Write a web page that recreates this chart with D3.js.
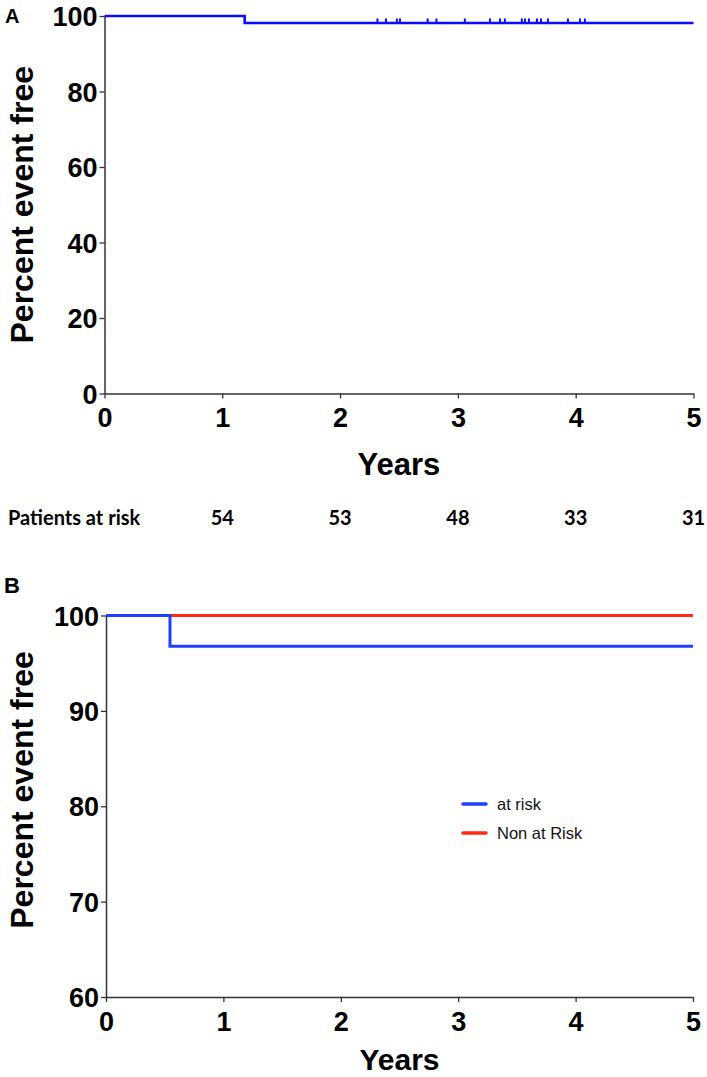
<!DOCTYPE html>
<html><head><meta charset="utf-8">
<script src="https://cdn.jsdelivr.net/npm/d3@7"></script>
<style>
body{margin:0;background:#fff;}
svg text{font-family:"Liberation Sans",Arial,Helvetica,sans-serif;}
</style></head>
<body><svg id="c" width="707" height="1077"></svg>
<script>
// ---------- Data ----------
const xTicks = [0,1,2,3,4,5];
const yTicksA = [0,20,40,60,80,100];
const yTicksB = [60,70,80,90,100];
// Panel A Kaplan-Meier: step times (years) and survival (%)
const stepTimesA = [0, 1.19, 5];
const stepValsA  = [100, 98.15, 98.15];
// censored observations (years)
const censorA = [2.317,2.389,2.482,2.508,2.743,2.818,3.059,3.272,3.357,3.399,3.543,3.569,3.603,3.671,3.705,3.764,3.934,4.036,4.078];
const riskTimes = [1,2,3,4,5];
const riskCounts = [54,53,48,33,31];
// Panel B
const seriesNames = ["at risk","Non at Risk"];
const stepTimesB1 = [0, 0.545, 5];
const stepValsB1  = [100, 96.77, 96.77];
const stepTimesB2 = [0, 5];
const stepValsB2  = [100, 100];

const svg = d3.select("#c");
const axisColor = "#333";

function drawAxes(g, x, y, yTicks, yAxisY){
  const xa = g.append("g").attr("transform",`translate(0,${yAxisY})`)
    .call(d3.axisBottom(x).tickValues(xTicks).tickSize(5).tickSizeOuter(0).tickPadding(4).tickFormat(d3.format("d")));
  const ya = g.append("g").attr("transform",`translate(${x.range()[0]},0)`)
    .call(d3.axisLeft(y).tickValues(yTicks).tickSize(5).tickSizeOuter(0).tickPadding(2).tickFormat(d3.format("d")));
  [xa,ya].forEach(a=>{
    a.select(".domain").attr("stroke",axisColor).attr("stroke-width",1.5);
    a.selectAll(".tick line").attr("stroke",axisColor).attr("stroke-width",1.3);
    a.selectAll("text").attr("fill","#000").attr("font-weight","bold").attr("font-size","27px");
  });
  xa.selectAll("text").attr("dy","0.92em");
  ya.selectAll("text").attr("dy","0.36em");
}

// ---------- Panel A ----------
const xA = d3.scaleLinear().domain([0,5]).range([104.5,693.5]);
const yA = d3.scaleLinear().domain([0,100]).range([393.5,16]);
const gA = svg.append("g");
drawAxes(gA, xA, yA, yTicksA, 393.5);
const lineA = d3.line().x((d,i)=>xA(stepTimesA[i])).y(d=>yA(d)).curve(d3.curveStepAfter);
gA.append("path").datum(stepValsA).attr("d",lineA).attr("fill","none")
  .attr("stroke","#0a0aff").attr("stroke-width",2.6);
function survA(t){let v=stepValsA[0];stepTimesA.forEach((s,i)=>{if(t>=s)v=stepValsA[i];});return v;}
gA.selectAll(".cens").data(censorA).enter().append("line")
  .attr("x1",d=>xA(d)).attr("x2",d=>xA(d))
  .attr("y1",d=>yA(survA(d))).attr("y2",d=>yA(survA(d))-4.5)
  .attr("stroke","#0a0aff").attr("stroke-width",2);
svg.append("text").attr("x",5).attr("y",23).attr("font-weight","bold").attr("font-size","20px").text("A");
svg.append("text").attr("transform",`translate(33,${(yA(0)+yA(100))/2}) rotate(-90)`)
  .attr("text-anchor","middle").attr("font-weight","bold").attr("font-size","32px").text("Percent event free");
svg.append("text").attr("x",(xA(0)+xA(5))/2).attr("y",475).attr("text-anchor","middle")
  .attr("font-weight","bold").attr("font-size","31px").text("Years");
// risk table
const riskFont = "Lato,'Open Sans',sans-serif";
svg.append("text").attr("x",8).attr("y",525).attr("font-weight","bold").attr("font-size","20px")
  .style("font-family",riskFont).text("Patients at risk");
svg.selectAll(".risk").data(riskCounts).enter().append("text")
  .attr("x",(d,i)=>xA(riskTimes[i])).attr("y",525).attr("text-anchor","middle")
  .attr("font-weight","bold").attr("font-size","20px").style("font-family",riskFont).text(d=>d);

// ---------- Panel B ----------
const xB = d3.scaleLinear().domain([0,5]).range([106,693]);
const yB = d3.scaleLinear().domain([60,100]).range([997,615.5]);
const gB = svg.append("g");
drawAxes(gB, xB, yB, yTicksB, 997);
const colB = ["#1f3fff","#ff2a12"];
const lineB = times => d3.line().x((d,i)=>xB(times[i])).y(d=>yB(d)).curve(d3.curveStepAfter);
gB.append("path").datum(stepValsB2).attr("d",lineB(stepTimesB2)).attr("fill","none")
  .attr("stroke",colB[1]).attr("stroke-width",3);
gB.append("path").datum(stepValsB1).attr("d",lineB(stepTimesB1)).attr("fill","none")
  .attr("stroke",colB[0]).attr("stroke-width",3);
svg.append("text").attr("x",4).attr("y",593).attr("font-weight","bold").attr("font-size","22px").text("B");
svg.append("text").attr("transform",`translate(33,790) rotate(-90)`)
  .attr("text-anchor","middle").attr("font-weight","bold").attr("font-size","32px").text("Percent event free");
svg.append("text").attr("x",(xB(0)+xB(5))/2).attr("y",1070).attr("text-anchor","middle")
  .attr("font-weight","bold").attr("font-size","30px").text("Years");
// legend
const leg = svg.append("g");
seriesNames.forEach((n,i)=>{
  const yy = 804 + i*29;
  leg.append("line").attr("x1",463).attr("x2",486).attr("y1",yy).attr("y2",yy)
    .attr("stroke",colB[i]).attr("stroke-width",3.5).attr("stroke-linecap","round");
  leg.append("text").attr("x",497).attr("y",yy+6).attr("font-size","16.5px").attr("fill","#111").text(n);
});
</script></body></html>
